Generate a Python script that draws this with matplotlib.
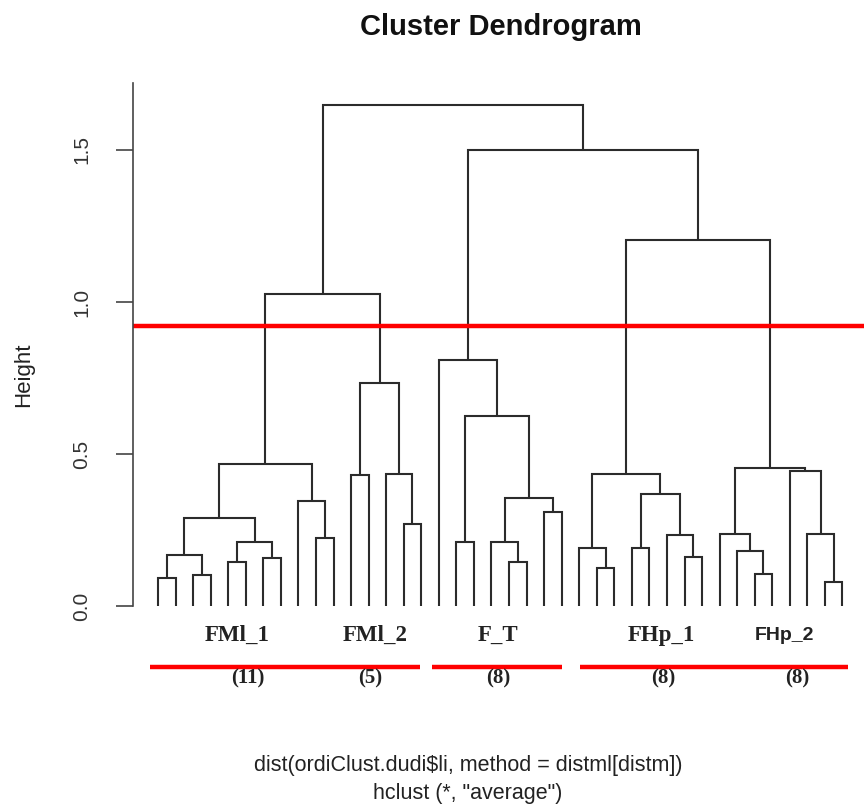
import matplotlib
matplotlib.use("Agg")
import matplotlib.pyplot as plt

# hclust merge table (R convention): negative = leaf number, positive = earlier merge
merge_left = [-1, -3, 1, -5, -7, 4, 3, -10, -9, 7,
              -12, -15, -14, 11, 10,
              -18, -21, -20, -23, 18, 16, -17,
              -26, -25, -28, -31, -30, 25, 24,
              -35, -34, -33, -39, -38, -37, 32, 29, 22, 15]
merge_right = [-2, -4, 2, -6, -8, 5, 6, -11, 8, 9,
               -13, -16, 12, 13, 14,
               -19, -22, 17, -24, 19, 20, 21,
               -27, 23, -29, -32, 26, 27, 28,
               -36, 30, 31, -40, 33, 34, 35, 36, 37, 38]
merge_height = [0.091, 0.102, 0.168, 0.146, 0.157, 0.212, 0.288, 0.225, 0.345, 0.467,
                0.431, 0.269, 0.434, 0.734, 1.026,
                0.212, 0.146, 0.212, 0.310, 0.356, 0.626, 0.810,
                0.124, 0.191, 0.190, 0.162, 0.234, 0.368, 0.434,
                0.105, 0.181, 0.236, 0.080, 0.236, 0.444, 0.453, 1.204, 1.500, 1.648]

group_names = ["FMl_1", "FMl_2", "F_T", "FHp_1", "FHp_2"]
group_counts = ["(11)", "(5)", "(8)", "(8)", "(8)"]
cut_height = 0.92
yticks = [0.0, 0.5, 1.0, 1.5]

# layout (leaf units) for the hand-added annotations
name_x = [4.5, 12.4, 19.4, 28.7, 35.7]
count_x = [5.1, 12.1, 19.4, 28.8, 36.4]
underline_spans = [(-0.45, 14.95), (15.6, 23.0), (24.05, 39.3)]

W, H = 864, 807
fig = plt.figure(figsize=(W / 100, H / 100), dpi=100)
ax = fig.add_axes([133 / W, (H - 620) / H, (W - 133) / W, 560 / H])

# positions of merges
xs, hs = [], []


def node(k):
    if k < 0:
        return -k - 1, 0.0
    return xs[k - 1], hs[k - 1]


lc = "#2b2b2b"
for l, r, h in zip(merge_left, merge_right, merge_height):
    xl, hl = node(l)
    xr, hr = node(r)
    ax.plot([xl, xl, xr, xr], [hl, h, h, hr], color=lc, lw=1.5,
            solid_joinstyle="miter", solid_capstyle="butt")
    xs.append((xl + xr) / 2)
    hs.append(h)

ax.set_xlim(-25 / 17.55, 706 / 17.55)
ax.set_ylim(-14 / 304, 546 / 304)

ax.axhline(cut_height, color="#ff0000", lw=3.2)

for s in ["top", "right", "bottom"]:
    ax.spines[s].set_visible(False)
ax.spines["left"].set_bounds(0, 1.72)
ax.spines["left"].set_color("#444444")
ax.spines["left"].set_linewidth(1.2)
ax.set_xticks([])
ax.set_yticks(yticks)
ax.set_yticklabels(["%.1f" % t for t in yticks], rotation=90, va="center",
                   fontsize=15, family="Liberation Sans", color="#333333")
ax.tick_params(axis="y", length=12, width=1.2, color="#444444", pad=18)

sans = "Liberation Sans"
serif = "Liberation Serif"
for i, name in enumerate(group_names):
    fam = sans if name == "FHp_2" else serif
    fs = 14 if name == "FHp_2" else 16.5
    ax.text(name_x[i], -0.098, name, ha="center", va="center", fontsize=fs,
            family=fam, fontweight="bold", color="#222222", clip_on=False)
    ax.text(count_x[i], -0.238, group_counts[i], ha="center", va="center",
            fontsize=15, family=serif, fontweight="bold", color="#222222",
            clip_on=False)
for a, b in underline_spans:
    ax.plot([a, b], [-0.201, -0.201], color="#ff0000", lw=3.2, clip_on=False,
            solid_capstyle="butt")

fig.text(501 / W, 1 - 27 / H, "Cluster Dendrogram", ha="center", va="center",
         fontsize=21, family=sans, fontweight="bold", color="#111111")
fig.text(24 / W, 1 - 375 / H, "Height", ha="center", va="center", rotation=90,
         fontsize=16, family=sans, color="#222222")
fig.text(468 / W, 1 - 766 / H, r"dist(ordiClust.dudi\$li, method = distml[distm])",
         ha="center", va="center", fontsize=15.5, family=sans, color="#222222")
fig.text(468 / W, 1 - 794 / H, 'hclust (*, "average")',
         ha="center", va="center", fontsize=15.5, family=sans, color="#222222")

fig.savefig("out.png", dpi=100, facecolor="white")
